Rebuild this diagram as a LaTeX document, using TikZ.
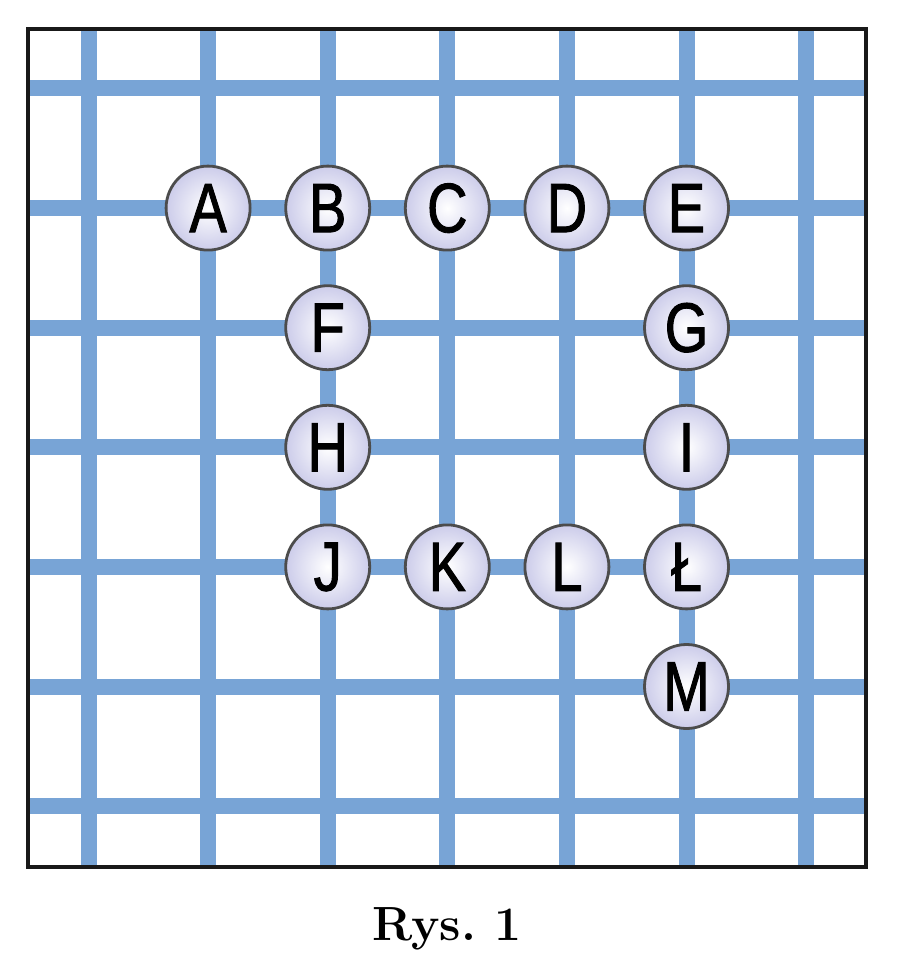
\documentclass[tikz,border=0pt]{standalone}
\usepackage{fontspec}
\newfontfamily\letterfont[FakeStretch=0.8,FakeBold=1.3]{Liberation Sans}
\definecolor{gridblue}{RGB}{120,164,214}
\definecolor{ballfill}{RGB}{204,204,234}
\begin{document}
\begin{tikzpicture}[x=0.5pt,y=-0.5pt,
  gridline/.style={gridblue,line width=8pt},
  ball/.style={circle,draw=black!70,line width=1.4pt,minimum size=42pt,inner sep=0pt,
    shading=radial,inner color=white,outer color=ballfill,
    font=\letterfont\fontsize{35}{35}\selectfont},
]
%%
\useasboundingbox (0,0) rectangle (900,967);
\draw [gridline] (28,88.5) -- (866,88.5);
\draw [gridline] (28,208.1) -- (866,208.1);
\draw [gridline] (28,327.7) -- (866,327.7);
\draw [gridline] (28,447.3) -- (866,447.3);
\draw [gridline] (28,566.9) -- (866,566.9);
\draw [gridline] (28,686.5) -- (866,686.5);
\draw [gridline] (28,806.1) -- (866,806.1);
\draw [gridline] (88.5,29) -- (88.5,867);
\draw [gridline] (208.1,29) -- (208.1,867);
\draw [gridline] (327.7,29) -- (327.7,867);
\draw [gridline] (447.3,29) -- (447.3,867);
\draw [gridline] (566.9,29) -- (566.9,867);
\draw [gridline] (686.5,29) -- (686.5,867);
\draw [gridline] (806.1,29) -- (806.1,867);
\draw [black!90,line width=1.6pt] (28,29) rectangle (866,867);
%
\node (node_A) at (208.1,208.1) [ball] {A};
\node (node_B) at (327.7,208.1) [ball] {B};
\node (node_C) at (447.3,208.1) [ball] {C};
\node (node_D) at (566.9,208.1) [ball] {D};
\node (node_E) at (686.5,208.1) [ball] {E};
\node (node_F) at (327.7,327.7) [ball] {F};
\node (node_G) at (686.5,327.7) [ball] {G};
\node (node_H) at (327.7,447.3) [ball] {H};
\node (node_I) at (686.5,447.3) [ball] {I};
\node (node_J) at (327.7,566.9) [ball] {J};
\node (node_K) at (447.3,566.9) [ball] {K};
\node (node_L) at (566.9,566.9) [ball] {L};
\node (node_Lstroke) at (686.5,566.9) [ball] {Ł};
\node (node_M) at (686.5,686.5) [ball] {M};
%
\node (caption) at (447,940) [anchor=base,font=\bfseries\fontsize{24}{24}\selectfont] {Rys.\ 1};
\end{tikzpicture}
\end{document}
